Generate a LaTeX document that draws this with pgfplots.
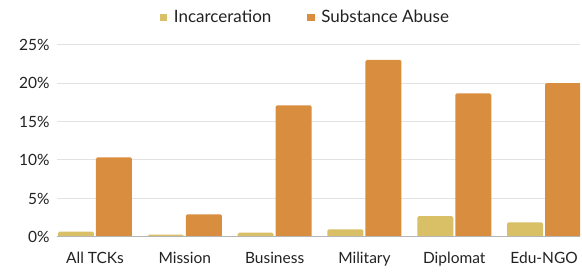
\documentclass[border=0pt]{standalone}
\usepackage{pgfplots}
\pgfplotsset{compat=1.18}
\usepackage{fontspec}
\setmainfont{Lato}
\definecolor{incc}{HTML}{D9BF65}
\definecolor{subc}{HTML}{D98D3E}
\definecolor{gridc}{HTML}{E2E2E2}
\definecolor{basec}{HTML}{B5B5B5}
\definecolor{txt}{HTML}{222222}
\begin{document}
\begin{tikzpicture}
\begin{axis}[
  name=ax,
  scale only axis,
  width=523pt, height=192.5pt,
  xmin=-0.423, xmax=5.40,
  ymin=0, ymax=25,
  axis line style={draw=none},
  axis x line*=bottom,
  axis y line*=left,
  ytick={0,5,10,15,20,25},
  yticklabel={\pgfmathprintnumber{\tick}\%},
  xtick={0,1,2,3,4,5},
  xticklabels={All TCKs,Mission,Business,Military,Diplomat,Edu-NGO},
  major tick length=0pt,
  ymajorgrids,
  grid style={gridc, line width=1pt},
  tick label style={font=\fontsize{15.5}{18}\selectfont, text=txt},
  /pgf/number format/assume math mode=true,
  yticklabel style={xshift=-4pt},
  xticklabel style={yshift=-12pt},
  ybar,
  bar width=36pt,
  legend style={draw=none, fill=none, at={(rel axis cs:0.475,1.141)}, anchor=center,
    legend columns=2, font=\fontsize{17}{20}\selectfont, text=txt,
    /tikz/every even column/.append style={column sep=34pt}},
  legend image code/.code={\fill[#1, sharp corners] (0pt,-3.6pt) rectangle (7.2pt,3.6pt); \path (0pt,0pt) -- (12pt,0pt);},
]
\addplot[fill=incc, draw=none, rounded corners=1.5pt, bar shift=-19pt] coordinates {(0,0.7) (1,0.3) (2,0.56) (3,1.0) (4,2.7) (5,1.9)};
\addlegendentry{Incarceration}
\addplot[fill=subc, draw=none, rounded corners=1.5pt, bar shift=19pt] coordinates {(0,10.35) (1,2.95) (2,17.1) (3,23.0) (4,18.66) (5,20.0)};
\addlegendentry{Substance Abuse}
\draw[basec, line width=1pt] (rel axis cs:0,0) -- (rel axis cs:1,0);
\end{axis}
\pgfresetboundingbox
\path ([shift={(-57pt,-36pt)}]ax.south west) rectangle ([shift={(2pt,44.5pt)}]ax.north east);
\end{tikzpicture}
\end{document}
